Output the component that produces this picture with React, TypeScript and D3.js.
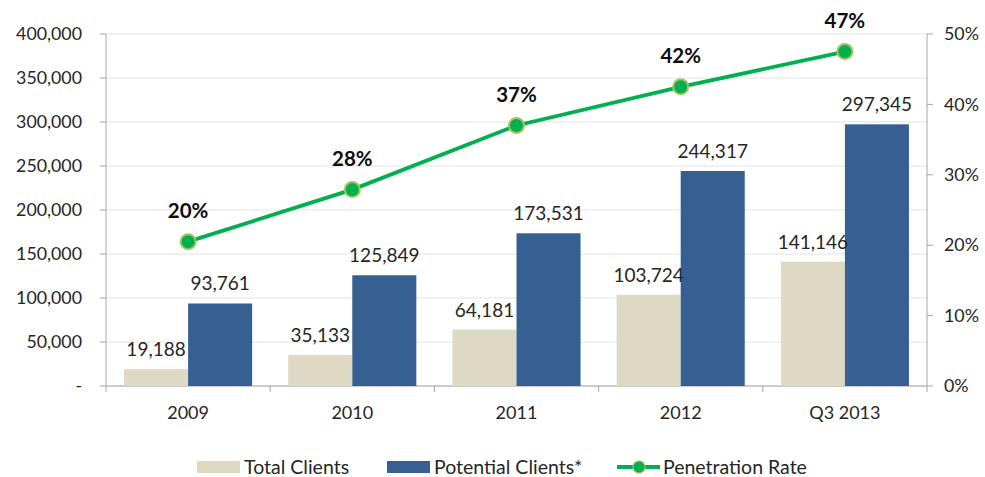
import React from "react";
import * as d3 from "d3";

const categories = ["2009", "2010", "2011", "2012", "Q3 2013"];
const totalClients = [19188, 35133, 64181, 103724, 141146];
const potentialClients = [93761, 125849, 173531, 244317, 297345];
const penetrationRate = [20.5, 27.9, 37.0, 42.5, 47.5];
const penetrationLabels = ["20%", "28%", "37%", "42%", "47%"];
const leftTicks = [0, 50000, 100000, 150000, 200000, 250000, 300000, 350000, 400000];
const rightTicks = [0, 10, 20, 30, 40, 50];

const W = 985;
const H = 477;
const M = { left: 106, right: 927, top: 34, bottom: 386 };
const FONT = "Lato, 'Open Sans', sans-serif";
const TEXT = "#262626";
const BEIGE = "#DDD9C3";
const BLUE = "#376092";
const GREEN = "#00B050";

export default function App() {
  const x = d3.scaleBand<string>().domain(categories).range([M.left, M.right]).paddingInner(0.22).paddingOuter(0.11);
  const sub = d3.scaleBand<string>().domain(["t", "p"]).range([0, x.bandwidth()]);
  const y = d3.scaleLinear().domain([0, 400000]).range([M.bottom, M.top]);
  const yr = d3.scaleLinear().domain([0, 50]).range([M.bottom, M.top]);
  const fmt = d3.format(",");
  const cx = (c: string) => (x(c) as number) + x.bandwidth() / 2;
  const line = d3
    .line<number>()
    .x((_, i) => cx(categories[i]))
    .y((d) => yr(d));
  const step = x.step();

  return (
    <svg width={W} height={H} style={{ display: "block", position: "absolute", left: 0, top: 0 }}>
      <rect width={W} height={H} fill="#fff" />
      {leftTicks.map((t) => (
        <line key={"g" + t} x1={M.left} x2={M.right} y1={y(t)} y2={y(t)} stroke="#E3E3E3" strokeWidth={1} />
      ))}
      {/* axes */}
      <line x1={M.left} x2={M.left} y1={M.top} y2={M.bottom} stroke="#A6A6A6" />
      <line x1={M.right} x2={M.right} y1={M.top} y2={M.bottom} stroke="#A6A6A6" />
      <line x1={M.left} x2={M.right} y1={M.bottom} y2={M.bottom} stroke="#A6A6A6" />
      {leftTicks.map((t) => (
        <g key={"l" + t}>
          <line x1={M.left - 6} x2={M.left} y1={y(t)} y2={y(t)} stroke="#A6A6A6" />
          <text x={82} y={y(t)} dy="0.35em" textAnchor="end" fontFamily={FONT} fontSize={17.8} fill={TEXT}>
            {t === 0 ? "-" : fmt(t)}
          </text>
        </g>
      ))}
      {rightTicks.map((t) => (
        <g key={"r" + t}>
          <line x1={M.right} x2={M.right + 6} y1={yr(t)} y2={yr(t)} stroke="#A6A6A6" />
          <text x={944} y={yr(t)} dy="0.35em" textAnchor="start" fontFamily={FONT} fontSize={17.8} fill={TEXT}>
            {t + "%"}
          </text>
        </g>
      ))}
      {d3.range(categories.length + 1).map((i) => (
        <line key={"xt" + i} x1={M.left + i * step} x2={M.left + i * step} y1={M.bottom} y2={M.bottom + 6} stroke="#A6A6A6" />
      ))}
      {categories.map((c) => (
        <text key={"xl" + c} x={cx(c)} y={413} dy="0.35em" textAnchor="middle" fontFamily={FONT} fontSize={18} fill={TEXT}>
          {c}
        </text>
      ))}
      {/* bars */}
      {categories.map((c, i) => {
        const x0 = x(c) as number;
        const xt = x0 + (sub("t") as number);
        const xp = x0 + (sub("p") as number);
        const bw = sub.bandwidth();
        return (
          <g key={"b" + c}>
            <rect x={xt} y={y(totalClients[i])} width={bw} height={M.bottom - y(totalClients[i])} fill={BEIGE} />
            <rect x={xp} y={y(potentialClients[i])} width={bw} height={M.bottom - y(potentialClients[i])} fill={BLUE} />
            <text x={xt + bw / 2} y={y(totalClients[i]) - 13} textAnchor="middle" fontFamily={FONT} fontSize={19} fill={TEXT}>
              {fmt(totalClients[i])}
            </text>
            <text x={xp + bw / 2} y={y(potentialClients[i]) - 13} textAnchor="middle" fontFamily={FONT} fontSize={19} fill={TEXT}>
              {fmt(potentialClients[i])}
            </text>
          </g>
        );
      })}
      {/* line */}
      <path d={line(penetrationRate) || ""} fill="none" stroke={GREEN} strokeWidth={3.8} />
      {penetrationRate.map((v, i) => (
        <g key={"m" + i}>
          <circle cx={cx(categories[i])} cy={yr(v)} r={7.5} fill={GREEN} stroke="#A4C25E" strokeWidth={2} />
          <text x={cx(categories[i])} y={yr(v) - 24} textAnchor="middle" fontFamily={FONT} fontSize={20.5} fontWeight="bold" fill="#0d0d0d">
            {penetrationLabels[i]}
          </text>
        </g>
      ))}
      {/* legend */}
      <g fontFamily={FONT} fontSize={19.5} fill={TEXT}>
        <rect x={197} y={461} width={43} height={12} fill={BEIGE} />
        <text x={244} y={467} dy="0.35em">Total Clients</text>
        <rect x={387} y={461} width={43} height={12} fill={BLUE} />
        <text x={434} y={467} dy="0.35em">Potential Clients*</text>
        <line x1={617} x2={660} y1={467} y2={467} stroke={GREEN} strokeWidth={3.8} />
        <circle cx={639} cy={467} r={6} fill={GREEN} stroke="#A4C25E" strokeWidth={1.2} />
        <text x={663} y={467} dy="0.35em">Penetration Rate</text>
      </g>
    </svg>
  );
}
